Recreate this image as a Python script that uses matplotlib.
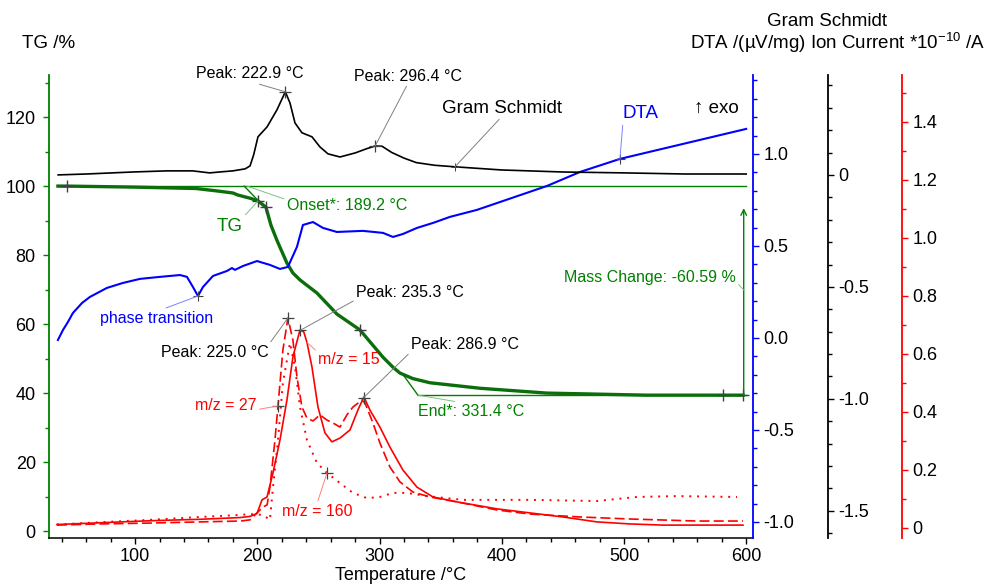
import numpy as np
import matplotlib
matplotlib.use('Agg')
import matplotlib.pyplot as plt
from matplotlib.ticker import MultipleLocator, FuncFormatter

plt.rcParams['font.family'] = ['Liberation Sans', 'DejaVu Sans']
plt.rcParams['axes.unicode_minus'] = False
plt.rcParams['mathtext.default'] = 'regular'

# TG /%
tg_T = [36.8, 44.2, 99.8, 112.1, 149.8, 166.9, 180.0, 184.1, 193.9, 200.5, 207.0, 211.1,
        216.0, 224.2, 229.1, 234.9, 248.8, 261.9, 265.1, 284.0, 302.8, 311.0, 316.7,
        327.3, 341.2, 382.2, 437.0, 518.8, 597.4]
tg_val = [100.0, 100.0, 99.7, 99.6, 99.3, 98.6, 98.0, 97.4, 96.5, 95.7, 93.9, 88.7,
          84.3, 77.7, 74.8, 72.8, 69.0, 64.1, 62.9, 58.3, 50.4, 47.5, 45.8,
          44.2, 43.0, 41.4, 40.0, 39.4, 39.4]

# DTA /(uV/mg)
dta_T = [36.8, 40.9, 45.0, 49.1, 56.5, 63.0, 76.9, 90.0, 103.9, 120.3, 136.7, 142.4,
         147.3, 151.4, 155.5, 163.7, 175.1, 179.2, 181.7, 188.2, 199.7, 210.3, 218.5,
         225.0, 232.4, 237.3, 245.5, 253.7, 265.1, 286.4, 302.8, 311.0, 319.1, 330.6,
         343.7, 357.6, 379.7, 437.0, 464.0, 496.7, 600.0]
dta_val = [-0.011, 0.043, 0.087, 0.136, 0.190, 0.223, 0.272, 0.299, 0.321, 0.332, 0.342, 0.332,
           0.277, 0.228, 0.277, 0.337, 0.364, 0.380, 0.370, 0.391, 0.418, 0.397, 0.375,
           0.386, 0.495, 0.614, 0.630, 0.598, 0.576, 0.582, 0.571, 0.549, 0.565, 0.598,
           0.625, 0.658, 0.696, 0.826, 0.902, 0.973, 1.136]

# Gram Schmidt
gs_T = [37, 60, 98, 126, 147, 161, 169, 180, 190, 194, 197, 200.5, 207.9, 216, 222.9,
        226.7, 230.8, 236.5, 244.7, 251.2, 257.8, 267.6, 280, 290, 296.4, 302, 310, 320,
        330, 345, 362, 400, 450, 500, 550, 600]
gs_val = [0.0, 0.004, 0.013, 0.018, 0.018, 0.009, 0.013, 0.018, 0.027, 0.040, 0.09, 0.170,
          0.214, 0.290, 0.371, 0.321, 0.232, 0.188, 0.170, 0.125, 0.094, 0.080, 0.098, 0.118,
          0.129, 0.128, 0.100, 0.075, 0.055, 0.043, 0.036, 0.022, 0.013, 0.009, 0.004, 0.004]

# Ion current *10^-10 /A
mz15_T = [36, 71, 112, 153, 186, 194, 199.7, 203.8, 207.9, 212.8, 218.5, 224.2, 229.1,
          234.9, 238.0, 240.6, 244.7, 249.6, 255.3, 261.0, 267.6, 275.8, 282.3, 287.2,
          292.1, 300.3, 308.5, 319.1, 330.6, 343.7, 363.3, 396.1, 423.1, 450.1, 477.9,
          504.9, 531.9, 597.4]
mz15_val = [0.012, 0.018, 0.025, 0.030, 0.036, 0.040, 0.050, 0.097, 0.107, 0.190, 0.303, 0.441, 0.590,
            0.683, 0.676, 0.640, 0.555, 0.417, 0.328, 0.297, 0.310, 0.338, 0.407, 0.452,
            0.407, 0.348, 0.279, 0.200, 0.141, 0.107, 0.090, 0.066, 0.052, 0.038, 0.021,
            0.014, 0.010, 0.010]

mz27_T = [36, 71, 112, 153, 186, 194, 199.7, 204.6, 208.0, 210.3, 214.4, 216.9, 220.9,
          225.0, 229.1, 232.4, 236.5, 240.6, 245.5, 251.2, 257.0, 261.9, 267.6, 273.3,
          278.2, 285.6, 288.1, 294.6, 300.3, 308.5, 316.7, 327.3, 341.2, 363.3, 396.1,
          423.1, 464.0, 504.9, 559.7, 597.4]
mz27_val = [0.010, 0.014, 0.017, 0.021, 0.024, 0.028, 0.052, 0.072, 0.080, 0.141, 0.303, 0.421, 0.614,
            0.724, 0.648, 0.521, 0.417, 0.379, 0.369, 0.390, 0.372, 0.362, 0.348, 0.390,
            0.417, 0.441, 0.431, 0.362, 0.293, 0.210, 0.159, 0.124, 0.107, 0.090, 0.062,
            0.048, 0.038, 0.031, 0.024, 0.024]

mz160_T = [36, 71, 112, 153, 186, 194, 204.6, 210.3, 212.8, 216.9, 220.9, 226.7, 230.8,
           234.9, 240.6, 248.8, 257.0, 267.6, 278.2, 289.7, 300.3, 311.0, 322.4, 338.8,
           368.2, 423.1, 477.9, 510.6, 543.4, 592.5]
mz160_val = [0.012, 0.020, 0.028, 0.038, 0.045, 0.048, 0.045, 0.028, 0.141, 0.303, 0.500, 0.638, 0.555,
             0.417, 0.303, 0.224, 0.190, 0.155, 0.121, 0.103, 0.107, 0.121, 0.121, 0.110,
             0.097, 0.097, 0.093, 0.107, 0.110, 0.107]

# evaluation results
onset_T = 189.2
end_T = 331.4
mass_change = -60.59
tg_marks_T = [44.2, 200.5, 207.0, 284.0, 581.0, 597.4]
gs_peaks_T = [222.9, 296.4]
gs_label_T = 361.7
dta_marks_T = [151.4, 496.7]
mz15_peaks_T = [235.3, 286.9]
mz27_peak_T = 225.0
mz27_label_T = 216.9
mz160_label_T = 257.0

green = '#008000'
tg_green = '#0b6e0b'
blue = '#0000ff'
red = '#ff0000'
mark_c = '#404040'

fig = plt.figure(figsize=(9.88, 5.84), dpi=100)
ax = fig.add_axes([49 / 988, 1 - 538 / 584, 704 / 988, 463 / 584])
ax_dta = ax.twinx()
ax_gs = ax.twinx()
ax_ion = ax.twinx()
ax_gs.spines['right'].set_position(('axes', 1.1065))
ax_ion.spines['right'].set_position(('axes', 1.2116))

ax.set_xlim(29.5, 605.6)
ax.set_ylim(-2.0, 132.2)
ax_dta.set_ylim(-1.087, 1.429)
ax_gs.set_ylim(-1.621, 0.446)
ax_ion.set_ylim(-0.0345, 1.562)

for a in (ax, ax_dta, ax_gs, ax_ion):
    a.spines['top'].set_visible(False)
ax.spines['right'].set_visible(False)
for a in (ax_dta, ax_gs, ax_ion):
    a.spines['left'].set_visible(False)
    a.spines['bottom'].set_visible(False)

ax.spines['left'].set_color(green)
ax.spines['left'].set_linewidth(1.3)
ax.spines['bottom'].set_linewidth(1.1)
for a, c in ((ax_dta, blue), (ax_gs, 'black'), (ax_ion, red)):
    a.spines['right'].set_color(c)
    a.spines['right'].set_linewidth(1.3)
    a.tick_params(axis='y', which='both', colors=c, labelcolor='black', direction='out',
                  labelsize=13, width=1)
    a.tick_params(axis='y', which='major', length=4.5, pad=3)
    a.tick_params(axis='y', which='minor', length=3)

ax.xaxis.set_major_locator(MultipleLocator(100))
ax.xaxis.set_minor_locator(MultipleLocator(20))
ax.yaxis.set_major_locator(MultipleLocator(20))
ax.yaxis.set_minor_locator(MultipleLocator(10))
ax.tick_params(axis='both', which='both', direction='out', labelsize=13, width=1)
ax.tick_params(axis='both', which='major', length=4.5, pad=3)
ax.tick_params(axis='both', which='minor', length=3)
ax.tick_params(axis='y', which='both', colors=green, labelcolor='black', pad=5)

ax_dta.set_yticks([-1.0, -0.5, 0.0, 0.5, 1.0])
ax_dta.yaxis.set_minor_locator(MultipleLocator(0.1))
ax_dta.yaxis.set_major_formatter(FuncFormatter(lambda v, p: f'{v:.1f}'))
short = FuncFormatter(lambda v, p: '0' if abs(v) < 1e-9 else f'{v:.1f}')
ax_gs.set_yticks([-1.5, -1.0, -0.5, 0.0])
ax_gs.yaxis.set_minor_locator(MultipleLocator(0.1))
ax_gs.yaxis.set_major_formatter(short)
ax_ion.set_yticks([0.0, 0.2, 0.4, 0.6, 0.8, 1.0, 1.2, 1.4])
ax_ion.yaxis.set_minor_locator(MultipleLocator(0.1))
ax_ion.yaxis.set_major_formatter(short)

# TG with evaluation construction
tg_end = 100.0 + mass_change
ax.plot([tg_T[0], 600], [100.0, 100.0], color=green, lw=1.0)
ax.plot([end_T, 600], [tg_end, tg_end], color=green, lw=1.0)
ax.plot([onset_T, 202.5], [100.0, np.interp(202.5, tg_T, tg_val)], color=green, lw=1.0)
ax.plot([319.0, end_T], [np.interp(319.0, tg_T, tg_val), tg_end], color=green, lw=1.0)
ax.plot(tg_T, tg_val, color=tg_green, lw=2.4)
ax.annotate('', xy=(598, 93.6), xytext=(598, tg_end),
            arrowprops=dict(arrowstyle='->', color=green, lw=1.0, shrinkA=0, shrinkB=0))
ax.plot(tg_marks_T, np.interp(tg_marks_T, tg_T, tg_val), '+', color=mark_c, ms=8, mew=1.0)

ax_dta.plot(dta_T, dta_val, color=blue, lw=1.5)
ax_dta.plot(dta_marks_T, np.interp(dta_marks_T, dta_T, dta_val), '+', color=mark_c, ms=7, mew=0.8)

ax_gs.plot(gs_T, gs_val, color='black', lw=1.2)
ax_gs.plot(gs_peaks_T, np.interp(gs_peaks_T, gs_T, gs_val), '+', color=mark_c, ms=8, mew=0.9)
ax_gs.plot([gs_label_T], [np.interp(gs_label_T, gs_T, gs_val)], '+', color=mark_c, ms=6, mew=0.7)

ax_ion.plot(mz15_T, mz15_val, color=red, lw=1.2)
ax_ion.plot(mz27_T, mz27_val, color=red, lw=1.2, ls=(0, (6, 2.5)))
ax_ion.plot(mz160_T, mz160_val, color=red, lw=1.4, ls=(0, (1, 3)))
ax_ion.plot(mz15_peaks_T, np.interp(mz15_peaks_T, mz15_T, mz15_val), '+', color=mark_c, ms=8, mew=0.9)
ax_ion.plot([mz27_peak_T, mz27_label_T], np.interp([mz27_peak_T, mz27_label_T], mz27_T, mz27_val),
            '+', color=mark_c, ms=8, mew=0.9)
ax_ion.plot([mz160_label_T], [np.interp(mz160_label_T, mz160_T, mz160_val)], '+', color=mark_c, ms=8, mew=0.9)


def label(text, T, a, Tx, yx, relpos, color='black', lcolor='#808080', curve=None, size=11.5):
    y = np.interp(T, curve[0], curve[1])
    ax_ion.annotate(text, xy=(T, y), xycoords=a.transData, xytext=(Tx, yx),
                    textcoords=ax.transData, ha='center', va='center', color=color,
                    fontsize=size, annotation_clip=False,
                    arrowprops=dict(arrowstyle='-', color=lcolor, lw=0.7, shrinkA=0,
                                    shrinkB=0, relpos=relpos))


gs = (gs_T, gs_val)
label('Peak: 222.9 °C', gs_peaks_T[0], ax_gs, 193.9, 132.5, (0.5, 0), curve=gs)
label('Peak: 296.4 °C', gs_peaks_T[1], ax_gs, 323.2, 131.9, (0.5, 0), curve=gs)
label('Gram Schmidt', gs_label_T, ax_gs, 400.0, 122.6, (0.5, 0), curve=gs, size=13.5)
label('DTA', dta_marks_T[1], ax_dta, 513.9, 120.9, (0, 0), color=blue, lcolor='#8080ff',
      curve=(dta_T, dta_val), size=13.5)
label('phase transition', dta_marks_T[0], ax_dta, 117.4, 61.7, (0.52, 1), color=blue,
      lcolor='#8080ff', curve=(dta_T, dta_val))
label('Onset*: ' + f'{onset_T:.1f} °C', 191.5, ax, 273.3, 94.5, (0, 0.85), color=green,
      lcolor='#80c080', curve=([0, 1000], [100, 100]))
label('TG', tg_marks_T[1], ax, 177.6, 88.4, (1, 1), color=green, lcolor='#80c080',
      curve=(tg_T, tg_val), size=13.5)
label('End*: ' + f'{end_T:.1f} °C', end_T, ax, 374.8, 34.6, (0.5, 1), color=green,
      lcolor='#80c080', curve=([0, 1000], [tg_end, tg_end]))
label('Mass Change: ' + f'{mass_change:.2f} %', 598, ax, 521.3, 73.6, (1, 0.2), color=green,
      lcolor='#80c080', curve=([0, 1000], [69.9, 69.9]))
label('Peak: 235.3 °C', mz15_peaks_T[0], ax_ion, 324.9, 69.3, (0, 0), curve=(mz15_T, mz15_val))
label('Peak: 286.9 °C', mz15_peaks_T[1], ax_ion, 369.9, 54.2, (0, 0), curve=(mz15_T, mz15_val))
label('Peak: 225.0 °C', mz27_peak_T, ax_ion, 165.3, 51.9, (1, 1), curve=(mz27_T, mz27_val))
label('m/z = 15', 240.6, ax_ion, 275.0, 49.6, (0, 1), color=red, lcolor='#ff8080',
      curve=(mz15_T, mz15_val))
label('m/z = 27', mz27_label_T, ax_ion, 174.3, 36.5, (1, 0.2), color=red, lcolor='#ff8080',
      curve=(mz27_T, mz27_val))
label('m/z = 160', mz160_label_T, ax_ion, 248.8, 5.8, (0.5, 1), color=red, lcolor='#ff8080',
      curve=(mz160_T, mz160_val))

ax.text(575.5, 122.6, '↑ exo', ha='center', va='center', fontsize=13.5)

ax.set_xlabel('Temperature /°C', fontsize=13, labelpad=1)
fig.text(22 / 988, 1 - 43 / 584, 'TG /%', ha='left', va='center', fontsize=13.5)
fig.text(827 / 988, 1 - 22 / 584, 'Gram Schmidt', ha='center', va='center', fontsize=13.5)
fig.text(985 / 988, 1 - 43 / 584, 'DTA /(µV/mg) Ion Current *10$^{-10}$ /A', ha='right',
         va='center', fontsize=13.5)

fig.savefig('out.png', dpi=100)
